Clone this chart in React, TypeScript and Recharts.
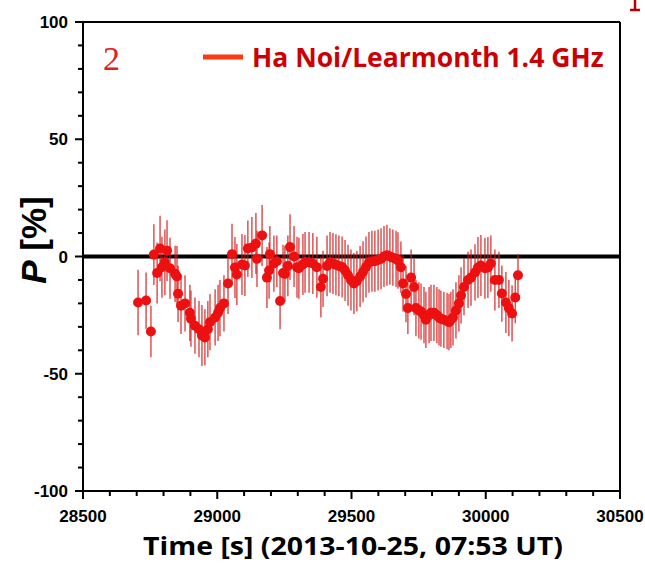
import React from "react";
import {
  ScatterChart,
  Scatter,
  XAxis,
  YAxis,
  ErrorBar,
  ReferenceLine
} from "recharts";

// time [s] of each polarization sample
const times = [
  28705, 28735, 28753, 28764, 28776, 28787, 28794, 28805, 28813, 28824,
  28843, 28850, 28854, 28865, 28880, 28898, 28902, 28917, 28932, 28943,
  28954, 28965, 28973, 28992, 29003, 29010, 29025, 29040, 29055, 29066,
  29073, 29092, 29103, 29114, 29129, 29144, 29148, 29167, 29185, 29193,
  29196, 29211, 29222, 29234, 29245, 29252, 29263, 29271, 29286, 29297,
  29304, 29319, 29327, 29342, 29356, 29371, 29386, 29394, 29409, 29420,
  29431, 29442, 29453, 29465, 29476, 29487, 29498, 29509, 29520, 29532,
  29543, 29554, 29565, 29576, 29587, 29599, 29610, 29621, 29632, 29643,
  29654, 29666, 29673, 29684, 29692, 29703, 29710, 29722, 29733, 29740,
  29751, 29759, 29770, 29777, 29789, 29796, 29807, 29818, 29826, 29833,
  29844, 29856, 29863, 29870, 29878, 29889, 29900, 29908, 29919, 29934,
  29945, 29960, 29971, 29982, 29997, 30008, 30019, 30034, 30049, 30060,
  30075, 30086, 30098, 30110, 30120
];

// P [%]
const pValues = [
  -19.6, -18.8, -32, 0.8, -7, 3.4, -4.6, -2.5, 2.5, -5,
  -7.4, -8.5, -15.9, -21, -20, -24, -26.5, -29.5, -31, -33.7,
  -34.5, -31, -28, -26, -24, -22, -20, -11.5, 1, -4.7,
  -7.7, -3.4, -3.8, 3.4, 3.8, 5.5, -1, 9, -9, -6,
  1, -3, -2, -19, -7, -7.4, -4, 4, 0, -4.6,
  -5, -3.4, -2.5, -2.5, -3, -4.6, -13, -9.5, -4, -2.5,
  -3, -3.5, -4, -4.5, -6, -8, -10, -11.5, -10.5, -8.5,
  -6.5, -4.5, -2.5, -2, -2, -1.5, -1, 0, 0.5, 0,
  -0.5, -1, -1.7, -4.6, -11.5, -16, -22, -9, -13, -22,
  -23, -23.5, -25, -27, -25, -24, -24, -25, -26, -26.5,
  -27, -27.5, -28, -27, -26, -23, -20, -16.6, -13, -10,
  -9, -6.8, -4.7, -3.8, -5, -4.7, -3, -10, -10, -15.8,
  -19.6, -22, -24.3, -17.5, -8
];

// error on P [%]
const pErrors = [
  14, 12, 11, 13, 13, 14, 13, 14, 13, 13,
  12, 13, 12, 12, 12, 12, 12, 12, 12, 13,
  12, 12, 12, 12, 12, 12, 12, 13, 13, 13,
  13, 13, 13, 12, 13, 13, 12, 13, 13, 12,
  12, 12, 11, 12, 12, 12, 13, 14, 13, 13,
  13, 13, 13, 13, 13, 13, 13, 12, 13, 13,
  13, 13, 13, 13, 13, 13, 13, 13, 13, 13,
  13, 13, 13, 13, 13, 13, 13, 13, 13, 12,
  12, 12, 12, 11, 12, 12, 11, 12, 12, 12,
  12, 12, 12, 12, 12, 12, 12, 12, 12, 12,
  12, 12, 12, 12, 12, 12, 12, 12, 12, 12,
  12, 12, 13, 13, 13, 13, 12, 13, 12, 12,
  13, 12, 12, 11, 9
];

const xTicks = [
  28500, 28600, 28700, 28800, 28900, 29000, 29100, 29200, 29300, 29400, 29500,
  29600, 29700, 29800, 29900, 30000, 30100, 30200, 30300, 30400, 30500
];
const yTicks = [
  -100, -90, -80, -70, -60, -50, -40, -30, -20, -10, 0,
  10, 20, 30, 40, 50, 60, 70, 80, 90, 100
];

const data = times.map((t, i) => ({ t, p: pValues[i], err: pErrors[i] }));

const tickFont = "'Liberation Sans', Arial, sans-serif";

const BottomTick = (props: any) => {
  const { x, y, payload } = props;
  const major = payload.value % 500 === 0;
  return (
    <g>
      <line x1={x} y1={y} x2={x} y2={y + (major ? 8 : 5)} stroke="#000" strokeWidth={2} />
      {major && (
        <text x={x} y={y + 31} textAnchor="middle" fontFamily={tickFont} fontWeight="bold" fontSize={17} fill="#000">
          {payload.value}
        </text>
      )}
    </g>
  );
};

const TopTick = (props: any) => {
  const { x, y, payload } = props;
  const major = payload.value % 500 === 0;
  return <line x1={x} y1={y} x2={x} y2={y + (major ? 8 : 5)} stroke="#000" strokeWidth={2} />;
};

const LeftTick = (props: any) => {
  const { x, y, payload } = props;
  const major = payload.value % 50 === 0;
  return (
    <g>
      <line x1={x} y1={y} x2={x - (major ? 8 : 5)} y2={y} stroke="#000" strokeWidth={2} />
      {major && (
        <text x={x - 15} y={y + 6} textAnchor="end" fontFamily={tickFont} fontWeight="bold" fontSize={17} fill="#000">
          {payload.value}
        </text>
      )}
    </g>
  );
};

const RightTick = (props: any) => {
  const { x, y, payload } = props;
  const major = payload.value % 50 === 0;
  return <line x1={x} y1={y} x2={x - (major ? 8 : 5)} y2={y} stroke="#000" strokeWidth={2} />;
};

const Dot = (props: any) => {
  const { cx, cy } = props;
  return <circle cx={cx} cy={cy} r={5} fill="#ec1010" />;
};

const App: React.FC = () => {
  return (
    <div style={{ position: "absolute", left: 0, top: 0, width: 645, height: 563, background: "#fff" }}>
      <ScatterChart
        width={645}
        height={563}
        margin={{ top: 17, right: 20, bottom: 22, left: 23 }}
        style={{ position: "absolute", left: 0, top: 0 }}
      >
        <XAxis
          xAxisId="b"
          dataKey="t"
          type="number"
          domain={[28500, 30500]}
          ticks={xTicks}
          interval={0}
          height={50}
          tickSize={0}
          tickMargin={0}
          tickLine={false}
          tick={<BottomTick />}
          axisLine={{ stroke: "#000", strokeWidth: 2 }}
          allowDataOverflow
        />
        <XAxis
          xAxisId="t"
          orientation="top"
          type="number"
          domain={[28500, 30500]}
          ticks={xTicks}
          interval={0}
          height={5}
          tickSize={0}
          tickMargin={0}
          tickLine={false}
          tick={<TopTick />}
          axisLine={{ stroke: "#000", strokeWidth: 2 }}
        />
        <YAxis
          yAxisId="l"
          dataKey="p"
          type="number"
          domain={[-100, 100]}
          ticks={yTicks}
          interval={0}
          width={60}
          tickSize={0}
          tickMargin={0}
          tickLine={false}
          tick={<LeftTick />}
          axisLine={{ stroke: "#000", strokeWidth: 2 }}
          allowDataOverflow
        />
        <YAxis
          yAxisId="r"
          orientation="right"
          type="number"
          domain={[-100, 100]}
          ticks={yTicks}
          interval={0}
          width={5}
          tickSize={0}
          tickMargin={0}
          tickLine={false}
          tick={<RightTick />}
          axisLine={{ stroke: "#000", strokeWidth: 2 }}
        />
        <ReferenceLine xAxisId="b" yAxisId="l" y={0} stroke="#000" strokeWidth={4} />
        <Scatter
          xAxisId="b"
          yAxisId="l"
          data={data}
          dataKey="p"
          shape={<Dot />}
          isAnimationActive={false}
        >
          <ErrorBar
            dataKey="err"
            direction="y"
            width={0}
            stroke="#d21a1a"
            strokeOpacity={0.75}
            strokeWidth={1.5}
            isAnimationActive={false}
          />
        </Scatter>
      </ScatterChart>
      <svg width={645} height={563} style={{ position: "absolute", left: 0, top: 0, pointerEvents: "none" }}>
        {/* fragment of a cropped glyph at the top-right corner */}
        <path d="M635 0 L635 9 M630 10 L640 10" stroke="#b80000" strokeWidth={2.5} fill="none" />
        <text x={103} y={70} fontFamily="'Liberation Serif', serif" fontSize={34} fill="#e02020">
          2
        </text>
        <line x1={203} y1={57} x2={243} y2={57} stroke="#ff3a10" strokeWidth={5} />
        <text x={252} y={67} fontFamily="'Open Sans', sans-serif" fontWeight="bold" fontSize={26.5} fill="#cc0000">
          Ha Noi/Learmonth 1.4 GHz
        </text>
        <text
          x={143}
          y={555}
          textLength={420}
          lengthAdjust="spacingAndGlyphs"
          fontFamily="'Open Sans', sans-serif"
          fontWeight="bold"
          fontSize={25}
          fill="#000"
        >
          Time [s] (2013-10-25, 07:53 UT)
        </text>
        <text
          transform="translate(46,240) rotate(-90)"
          textAnchor="middle"
          fontFamily={tickFont}
          fontWeight="bold"
          fontSize={35}
          fill="#000"
        >
          <tspan fontStyle="italic">P</tspan> [%]
        </text>
      </svg>
    </div>
  );
};

export default App;
